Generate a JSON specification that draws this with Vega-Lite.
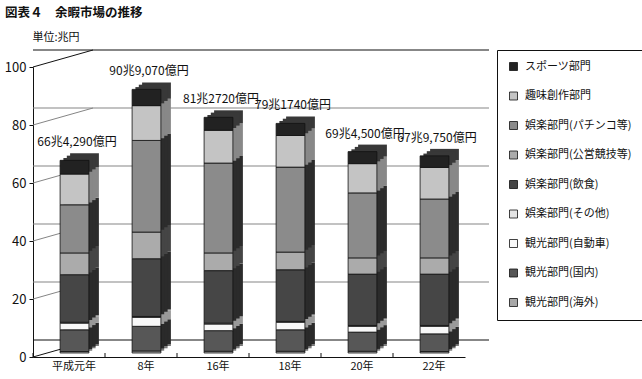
{
  "$schema": "https://vega.github.io/schema/vega-lite/v6.json",
  "width": 432,
  "height": 290,
  "autosize": {"type": "none"},
  "padding": {"left": 33, "top": 67, "right": 177, "bottom": 22},
  "background": "white",
  "config": {"view": {"stroke": null}, "font": "Noto Sans CJK JP"},
  "title": {"text": "図表４　余暇市場の推移", "anchor": "start", "frame": "group", "dx": -28, "fontSize": 12.5, "fontWeight": "bold", "font": "Noto Sans CJK JP", "color": "#111", "offset": 12},
  "datasets": {
    "seg": [
      {"year": "平成元年", "cat": "観光部門(海外)", "k": 1, "v": 0.5},
      {"year": "平成元年", "cat": "観光部門(国内)", "k": 2, "v": 7.5},
      {"year": "平成元年", "cat": "観光部門(自動車)", "k": 3, "v": 2.3},
      {"year": "平成元年", "cat": "娯楽部門(その他)", "k": 4, "v": 0.3},
      {"year": "平成元年", "cat": "娯楽部門(飲食)", "k": 5, "v": 16.4},
      {"year": "平成元年", "cat": "娯楽部門(公営競技等)", "k": 6, "v": 7.5},
      {"year": "平成元年", "cat": "娯楽部門(パチンコ等)", "k": 7, "v": 16.6},
      {"year": "平成元年", "cat": "趣味創作部門", "k": 8, "v": 10.6},
      {"year": "平成元年", "cat": "スポーツ部門", "k": 9, "v": 4.73},
      {"year": "8年", "cat": "観光部門(海外)", "k": 1, "v": 0.7},
      {"year": "8年", "cat": "観光部門(国内)", "k": 2, "v": 8.5},
      {"year": "8年", "cat": "観光部門(自動車)", "k": 3, "v": 3.1},
      {"year": "8年", "cat": "娯楽部門(その他)", "k": 4, "v": 0.3},
      {"year": "8年", "cat": "娯楽部門(飲食)", "k": 5, "v": 19.9},
      {"year": "8年", "cat": "娯楽部門(公営競技等)", "k": 6, "v": 9.2},
      {"year": "8年", "cat": "娯楽部門(パチンコ等)", "k": 7, "v": 31.6},
      {"year": "8年", "cat": "趣味創作部門", "k": 8, "v": 12.0},
      {"year": "8年", "cat": "スポーツ部門", "k": 9, "v": 5.6},
      {"year": "16年", "cat": "観光部門(海外)", "k": 1, "v": 0.6},
      {"year": "16年", "cat": "観光部門(国内)", "k": 2, "v": 7.1},
      {"year": "16年", "cat": "観光部門(自動車)", "k": 3, "v": 2.3},
      {"year": "16年", "cat": "娯楽部門(その他)", "k": 4, "v": 0.3},
      {"year": "16年", "cat": "娯楽部門(飲食)", "k": 5, "v": 18.1},
      {"year": "16年", "cat": "娯楽部門(公営競技等)", "k": 6, "v": 6.1},
      {"year": "16年", "cat": "娯楽部門(パチンコ等)", "k": 7, "v": 31.0},
      {"year": "16年", "cat": "趣味創作部門", "k": 8, "v": 11.3},
      {"year": "16年", "cat": "スポーツ部門", "k": 9, "v": 4.47},
      {"year": "18年", "cat": "観光部門(海外)", "k": 1, "v": 0.6},
      {"year": "18年", "cat": "観光部門(国内)", "k": 2, "v": 7.4},
      {"year": "18年", "cat": "観光部門(自動車)", "k": 3, "v": 2.6},
      {"year": "18年", "cat": "娯楽部門(その他)", "k": 4, "v": 0.3},
      {"year": "18年", "cat": "娯楽部門(飲食)", "k": 5, "v": 17.8},
      {"year": "18年", "cat": "娯楽部門(公営競技等)", "k": 6, "v": 6.1},
      {"year": "18年", "cat": "娯楽部門(パチンコ等)", "k": 7, "v": 29.3},
      {"year": "18年", "cat": "趣味創作部門", "k": 8, "v": 10.9},
      {"year": "18年", "cat": "スポーツ部門", "k": 9, "v": 4.17},
      {"year": "20年", "cat": "観光部門(海外)", "k": 1, "v": 0.6},
      {"year": "20年", "cat": "観光部門(国内)", "k": 2, "v": 6.6},
      {"year": "20年", "cat": "観光部門(自動車)", "k": 3, "v": 2.0},
      {"year": "20年", "cat": "娯楽部門(その他)", "k": 4, "v": 0.3},
      {"year": "20年", "cat": "娯楽部門(飲食)", "k": 5, "v": 17.7},
      {"year": "20年", "cat": "娯楽部門(公営競技等)", "k": 6, "v": 5.6},
      {"year": "20年", "cat": "娯楽部門(パチンコ等)", "k": 7, "v": 22.4},
      {"year": "20年", "cat": "趣味創作部門", "k": 8, "v": 10.1},
      {"year": "20年", "cat": "スポーツ部門", "k": 9, "v": 4.15},
      {"year": "22年", "cat": "観光部門(海外)", "k": 1, "v": 0.5},
      {"year": "22年", "cat": "観光部門(国内)", "k": 2, "v": 6.1},
      {"year": "22年", "cat": "観光部門(自動車)", "k": 3, "v": 2.6},
      {"year": "22年", "cat": "娯楽部門(その他)", "k": 4, "v": 0.3},
      {"year": "22年", "cat": "娯楽部門(飲食)", "k": 5, "v": 17.7},
      {"year": "22年", "cat": "娯楽部門(公営競技等)", "k": 6, "v": 5.6},
      {"year": "22年", "cat": "娯楽部門(パチンコ等)", "k": 7, "v": 20.3},
      {"year": "22年", "cat": "趣味創作部門", "k": 8, "v": 10.9},
      {"year": "22年", "cat": "スポーツ部門", "k": 9, "v": 3.975}
    ],
    "tot": [
      {"year": "平成元年", "v": 66.429, "label": "66兆4,290億円"},
      {"year": "8年", "v": 90.907, "label": "90兆9,070億円"},
      {"year": "16年", "v": 81.272, "label": "81兆2720億円"},
      {"year": "18年", "v": 79.174, "label": "79兆1740億円"},
      {"year": "20年", "v": 69.45, "label": "69兆4,500億円"},
      {"year": "22年", "v": 67.975, "label": "67兆9,750億円"}
    ],
    "grid": [{"v": 0}, {"v": 20}, {"v": 40}, {"v": 60}, {"v": 80}, {"v": 100}]
  },
  "resolve": {"scale": {"color": "independent"}},
  "layer": [
    {
      "data": {"name": "grid"},
      "mark": {"type": "rule", "xOffset": 24, "x2Offset": 24, "yOffset": -17, "strokeWidth": 1.2},
      "encoding": {
        "y": {"field": "v", "type": "quantitative", "scale": {"domain": [0, 100], "nice": false},
          "axis": {"values": [0, 20, 40, 60, 80, 100], "grid": false, "domainColor": "#111", "tickColor": "#111", "tickSize": 4, "labelPadding": 3, "labelFontSize": 13, "labelColor": "#111", "labelFont": "Noto Sans CJK JP",
            "title": "単位:兆円", "titleAngle": 0, "titleAlign": "left", "titleBaseline": "middle", "titleX": -1, "titleY": -30, "titleFontSize": 11, "titleFontWeight": "normal", "titleFont": "Noto Sans CJK JP", "titleColor": "#111"}},
        "color": {"condition": {"test": "datum.v == 0 || datum.v == 100", "value": "#111"}, "value": "#858585"}
      }
    },
    {
      "data": {"name": "grid"},
      "mark": {"type": "rule", "x2Offset": 24, "y2Offset": -17, "strokeWidth": 1},
      "encoding": {
        "x": {"datum": "平成元年", "bandPosition": 0},
        "x2": {"datum": "平成元年"},
        "y": {"field": "v", "type": "quantitative"},
        "y2": {"field": "v"},
        "color": {"condition": {"test": "datum.v == 0 || datum.v == 100", "value": "#111"}, "value": "#858585"}
      }
    },
    {
      "mark": {"type": "rule", "color": "#858585", "xOffset": 24, "yOffset": -17, "y2Offset": -17, "strokeWidth": 1},
      "encoding": {"x": {"datum": "平成元年", "bandPosition": 0}, "y": {"datum": 0}, "y2": {"datum": 100}}
    },
    {
      "mark": {"type": "rule", "color": "#111", "xOffset": 24, "yOffset": -17, "y2Offset": -17, "strokeWidth": 1},
      "encoding": {"x": {"datum": "22年", "bandPosition": 1}, "y": {"datum": 0}, "y2": {"datum": 100}}
    },
    {
      "mark": {"type": "rule", "color": "#111", "x2Offset": 24, "y2Offset": -17, "strokeWidth": 1},
      "encoding": {"x": {"datum": "22年", "bandPosition": 1}, "x2": {"datum": "22年"}, "y": {"datum": 0}, "y2": {"datum": 0}}
    },
    {
      "data": {"name": "tot"},
      "mark": {"type": "rule", "color": "#111", "y2Offset": -4, "strokeWidth": 1},
      "encoding": {
        "x": {"field": "year", "type": "nominal", "bandPosition": 0, "sort": ["平成元年", "8年", "16年", "18年", "20年", "22年"]},
        "y": {"datum": 0},
        "y2": {"datum": 0}
      }
    },
    {
      "data": {"name": "seg"},
      "mark": {"type": "bar", "width": {"band": 0.4}, "xOffset": 15.5, "yOffset": -11, "y2Offset": -11},
      "encoding": {
        "x": {"field": "year", "type": "nominal", "sort": ["平成元年", "8年", "16年", "18年", "20年", "22年"]},
        "y": {"field": "v", "type": "quantitative", "stack": "zero"},
        "order": {"field": "k", "type": "quantitative"},
        "color": {"field": "cat", "type": "nominal", "legend": null,
          "scale": {"domain": ["観光部門(海外)", "観光部門(国内)", "観光部門(自動車)", "娯楽部門(その他)", "娯楽部門(飲食)", "娯楽部門(公営競技等)", "娯楽部門(パチンコ等)", "趣味創作部門", "スポーツ部門"],
            "range": ["#7a7a7a", "#2a2a2a", "#9a9a9a", "#9a9a9a", "#2b2b2b", "#454545", "#2c2c2c", "#888888", "#383838"]}}
      }
    },
    {
      "data": {"name": "seg"},
      "mark": {"type": "bar", "width": {"band": 0.4}, "xOffset": 12.2, "yOffset": -8.7, "y2Offset": -8.7},
      "encoding": {
        "x": {"field": "year", "type": "nominal", "sort": ["平成元年", "8年", "16年", "18年", "20年", "22年"]},
        "y": {"field": "v", "type": "quantitative", "stack": "zero"},
        "order": {"field": "k", "type": "quantitative"},
        "color": {"field": "cat", "type": "nominal", "legend": null,
          "scale": {"domain": ["観光部門(海外)", "観光部門(国内)", "観光部門(自動車)", "娯楽部門(その他)", "娯楽部門(飲食)", "娯楽部門(公営競技等)", "娯楽部門(パチンコ等)", "趣味創作部門", "スポーツ部門"],
            "range": ["#7a7a7a", "#2a2a2a", "#9a9a9a", "#9a9a9a", "#2b2b2b", "#454545", "#2c2c2c", "#888888", "#383838"]}}
      }
    },
    {
      "data": {"name": "seg"},
      "mark": {"type": "bar", "width": {"band": 0.4}, "xOffset": 8.8, "yOffset": -6.3, "y2Offset": -6.3},
      "encoding": {
        "x": {"field": "year", "type": "nominal", "sort": ["平成元年", "8年", "16年", "18年", "20年", "22年"]},
        "y": {"field": "v", "type": "quantitative", "stack": "zero"},
        "order": {"field": "k", "type": "quantitative"},
        "color": {"field": "cat", "type": "nominal", "legend": null,
          "scale": {"domain": ["観光部門(海外)", "観光部門(国内)", "観光部門(自動車)", "娯楽部門(その他)", "娯楽部門(飲食)", "娯楽部門(公営競技等)", "娯楽部門(パチンコ等)", "趣味創作部門", "スポーツ部門"],
            "range": ["#7a7a7a", "#2a2a2a", "#9a9a9a", "#9a9a9a", "#2b2b2b", "#454545", "#2c2c2c", "#888888", "#383838"]}}
      }
    },
    {
      "data": {"name": "seg"},
      "mark": {"type": "bar", "width": {"band": 0.4}, "xOffset": 5.5, "yOffset": -4, "y2Offset": -4, "stroke": "#111", "strokeWidth": 0.8},
      "encoding": {
        "x": {"field": "year", "type": "nominal", "sort": ["平成元年", "8年", "16年", "18年", "20年", "22年"],
          "scale": {"paddingInner": 0, "paddingOuter": 0},
          "axis": {"title": null, "labelAngle": 0, "labelAlign": "center", "labelOffset": 5, "ticks": false, "domainColor": "#111", "labelPadding": 9, "labelFontSize": 11, "labelColor": "#111", "labelFont": "Noto Sans CJK JP"}},
        "y": {"field": "v", "type": "quantitative", "stack": "zero"},
        "order": {"field": "k", "type": "quantitative"},
        "color": {"field": "cat", "type": "nominal",
          "scale": {"domain": ["観光部門(海外)", "観光部門(国内)", "観光部門(自動車)", "娯楽部門(その他)", "娯楽部門(飲食)", "娯楽部門(公営競技等)", "娯楽部門(パチンコ等)", "趣味創作部門", "スポーツ部門"],
            "range": ["#a8a8a8", "#575757", "#f8f8f8", "#e4e4e4", "#464646", "#ababab", "#8b8b8b", "#c4c4c4", "#222222"]},
          "legend": {"orient": "none", "legendX": 464, "legendY": -17, "title": null,
            "values": ["スポーツ部門", "趣味創作部門", "娯楽部門(パチンコ等)", "娯楽部門(公営競技等)", "娯楽部門(飲食)", "娯楽部門(その他)", "観光部門(自動車)", "観光部門(国内)", "観光部門(海外)"],
            "symbolType": "square", "symbolSize": 64, "symbolStrokeColor": "#111", "symbolStrokeWidth": 0.8,
            "labelFontSize": 11, "labelFont": "Noto Sans CJK JP", "labelColor": "#111", "labelOffset": 6, "labelLimit": 200,
            "rowPadding": 16.5, "padding": 11, "strokeColor": "#111", "fillColor": "white"}}
      }
    },
    {
      "data": {"name": "tot"},
      "mark": {"type": "text", "dx": 8, "dy": -22, "fontSize": 12, "font": "Noto Sans CJK JP", "color": "#111"},
      "encoding": {
        "x": {"field": "year", "type": "nominal", "sort": ["平成元年", "8年", "16年", "18年", "20年", "22年"]},
        "y": {"field": "v", "type": "quantitative"},
        "text": {"field": "label"}
      }
    }
  ]
}
